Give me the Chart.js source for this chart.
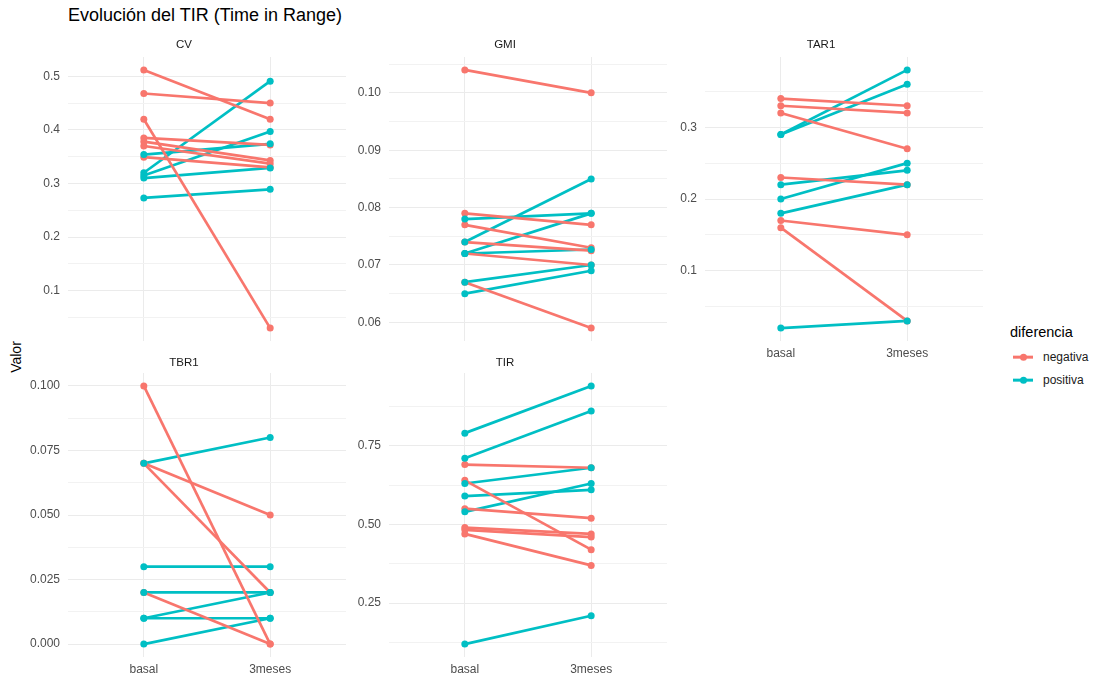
<!DOCTYPE html>
<html>
<head>
<meta charset="utf-8">
<script src="https://cdn.jsdelivr.net/npm/chart.js@4.4.0/dist/chart.umd.min.js"></script>
<style>
  body { margin: 0; background: #fff; font-family: "Liberation Sans", Arial, sans-serif; }
  #page { position: relative; width: 1101px; height: 681px; overflow: hidden; }
  #title { position: absolute; left: 68px; top: 15px; transform: translateY(-50%); font-size: 18px; color: #000; white-space: nowrap; }
  #ylab { position: absolute; left: 16px; top: 357px; transform: translate(-50%, -50%) rotate(-90deg); font-size: 14px; color: #000; }
  .panel { position: absolute; }
  .lg-title { position: absolute; left: 1010px; top: 332px; transform: translateY(-50%); font-size: 14.5px; color: #000; }
  .lg-key { position: absolute; left: 1013px; width: 20px; height: 2.7px; transform: translateY(-50%); }
  .lg-key::after { content: ""; position: absolute; left: 6.5px; top: -2.15px; width: 7px; height: 7px; border-radius: 50%; background: inherit; }
  .lg-label { position: absolute; left: 1043px; transform: translateY(-50%); font-size: 12px; color: #1a1a1a; }
</style>
</head>
<body>
<div id="page">
  <div id="title">Evolución del TIR (Time in Range)</div>
  <div id="ylab">Valor</div>
  <div id="legend"></div>
</div>
<script>
// ---- data -------------------------------------------------------------
const times = ['basal', '3meses'];
const groups = ['negativa', 'positiva'];

const cvBasal = [0.512, 0.468, 0.420, 0.385, 0.378, 0.370, 0.349, 0.320, 0.315, 0.354, 0.310, 0.273];
const cvMeses = [0.420, 0.450, 0.030, 0.372, 0.343, 0.337, 0.330, 0.491, 0.397, 0.374, 0.329, 0.289];
const cvTicks = ['0.1', '0.2', '0.3', '0.4', '0.5'];

const gmiBasal = [0.104, 0.079, 0.077, 0.074, 0.072, 0.067, 0.078, 0.074, 0.072, 0.072, 0.067, 0.065];
const gmiMeses = [0.100, 0.077, 0.073, 0.0725, 0.070, 0.059, 0.079, 0.085, 0.079, 0.0727, 0.070, 0.069];
const gmiTicks = ['0.06', '0.07', '0.08', '0.09', '0.10'];

const tarBasal = [0.34, 0.33, 0.32, 0.23, 0.17, 0.16, 0.29, 0.29, 0.22, 0.20, 0.18, 0.02];
const tarMeses = [0.33, 0.32, 0.27, 0.22, 0.15, 0.03, 0.38, 0.36, 0.24, 0.25, 0.22, 0.03];
const tarTicks = ['0.1', '0.2', '0.3'];

const tbrBasal = [0.10, 0.07, 0.07, 0.02, 0.07, 0.03, 0.02, 0.01, 0.01, 0.00];
const tbrMeses = [0.00, 0.02, 0.05, 0.00, 0.08, 0.03, 0.02, 0.02, 0.01, 0.01];
const tbrTicks = ['0.000', '0.025', '0.050', '0.075', '0.100'];

const tirBasal = [0.69, 0.64, 0.55, 0.49, 0.483, 0.47, 0.79, 0.71, 0.63, 0.59, 0.54, 0.12];
const tirMeses = [0.68, 0.42, 0.52, 0.47, 0.46, 0.37, 0.94, 0.86, 0.68, 0.61, 0.63, 0.21];
const tirTicks = ['0.25', '0.50', '0.75'];

// ---- look -------------------------------------------------------------
const COLORS  = { negativa: '#F8766D', positiva: '#00BFC4' };
const GRID    = '#ebebeb';
const GRID_MN = '#f2f2f2';
const FONT    = '"Liberation Sans", Arial, sans-serif';
const COLS    = [68, 389, 705];   // panel left edges
const ROWS    = [57, 373];        // panel top edges
const PW = 282, PH = 284;         // panel size
const AXW = 50, STRIP = 30, XAXH = 25;

const panels = [
  { name: 'CV',   basal: cvBasal,  meses: cvMeses,  ticks: cvTicks,  col: 0, row: 0, strip: 11.7 },
  { name: 'GMI',  basal: gmiBasal, meses: gmiMeses, ticks: gmiTicks, col: 1, row: 0, strip: 11.7 },
  { name: 'TAR1', basal: tarBasal, meses: tarMeses, ticks: tarTicks, col: 2, row: 0, strip: 11.7, xlabels: true },
  { name: 'TBR1', basal: tbrBasal, meses: tbrMeses, ticks: tbrTicks, col: 0, row: 1, strip: 10.5, xlabels: true },
  { name: 'TIR',  basal: tirBasal, meses: tirMeses, ticks: tirTicks, col: 1, row: 1, strip: 10.5, xlabels: true },
];

function drawPanel(p) {
  const canvas = document.createElement('canvas');
  canvas.className = 'panel';
  canvas.width  = AXW + PW;
  canvas.height = STRIP + PH + XAXH;
  canvas.style.left = (COLS[p.col] - AXW) + 'px';
  canvas.style.top  = (ROWS[p.row] - STRIP) + 'px';
  document.getElementById('page').appendChild(canvas);

  const all = p.basal.concat(p.meses);
  const lo = Math.min(...all), hi = Math.max(...all);
  const pad = (hi - lo) * 0.05;
  const major = p.ticks.map(Number);
  const step = major[1] - major[0];

  const lines = p.basal.map((b, i) => {
    const g = p.meses[i] - b < 0 ? 'negativa' : 'positiva';
    return {
      data: [{ x: 1, y: b }, { x: 2, y: p.meses[i] }],
      borderColor: COLORS[g],
      borderWidth: 2.7,
      pointRadius: 0,
    };
  });
  const pts = [], ptCol = [];
  p.basal.forEach((b, i) => {
    const g = p.meses[i] - b < 0 ? 'negativa' : 'positiva';
    pts.push({ x: 1, y: b }, { x: 2, y: p.meses[i] });
    ptCol.push(COLORS[g], COLORS[g]);
  });
  // first dataset is painted last, so points sit above every line
  const datasets = [{
    data: pts, showLine: false, pointRadius: 3.5, pointBorderWidth: 0,
    pointBackgroundColor: ptCol,
  }].concat(lines);

  const fs = 11.5, lh = fs * 1.2;
  new Chart(canvas, {
    type: 'line',
    data: { datasets },
    options: {
      responsive: false,
      animation: false,
      events: [],
      clip: false,
      layout: { padding: 0 },
      plugins: {
        legend: { display: false },
        tooltip: { enabled: false },
        title: {
          display: true, text: p.name, color: '#1a1a1a',
          font: { size: fs, family: FONT, weight: 'normal' },
          padding: { top: STRIP - lh - (p.strip - lh / 2), bottom: p.strip - lh / 2 },
        },
      },
      scales: {
        x: {
          type: 'linear', min: 0.4, max: 2.6,
          afterBuildTicks: s => { s.ticks = times.map((t, i) => ({ value: i + 1 })); },
          afterFit: s => { s.height = XAXH; },
          ticks: {
            display: !!p.xlabels, autoSkip: false, maxRotation: 0, padding: 5,
            color: '#4d4d4d', font: { size: 12, family: FONT },
            callback: v => times[v - 1],
          },
          grid: { color: GRID, lineWidth: 1, drawTicks: false },
          border: { display: false },
        },
        y: {
          min: lo - pad, max: hi + pad,
          afterBuildTicks: s => {
            const out = [];
            let v = major[0] - step / 2;
            while (v > s.min) v -= step / 2;
            for (v += step / 2; v <= s.max + 1e-9; v += step / 2) {
              const isMajor = major.some(m => Math.abs(m - v) < step * 1e-3);
              out.push({ value: v, minor: !isMajor });
            }
            s.ticks = out;
          },
          afterFit: s => { s.width = AXW; },
          ticks: {
            autoSkip: false, padding: 8,
            color: '#4d4d4d', font: { size: 12, family: FONT },
            callback: function (v, i, ticks) {
              if (ticks[i].minor) return '';
              const k = major.findIndex(m => Math.abs(m - v) < step * 1e-3);
              return p.ticks[k];
            },
          },
          grid: {
            drawTicks: false,
            color: ctx => (ctx.tick && ctx.tick.minor ? GRID_MN : GRID),
            lineWidth: 1,
          },
          border: { display: false },
        },
      },
    },
  });
}

panels.forEach(drawPanel);

// ---- legend -----------------------------------------------------------
(function legend() {
  const page = document.getElementById('page');
  const t = document.createElement('div');
  t.className = 'lg-title'; t.textContent = 'diferencia';
  page.appendChild(t);
  groups.forEach((g, i) => {
    const y = 357 + i * 23.3;
    const k = document.createElement('div');
    k.className = 'lg-key'; k.style.top = y + 'px'; k.style.background = COLORS[g];
    const l = document.createElement('div');
    l.className = 'lg-label'; l.style.top = y + 'px'; l.textContent = g;
    page.appendChild(k); page.appendChild(l);
  });
})();
</script>
</body>
</html>
